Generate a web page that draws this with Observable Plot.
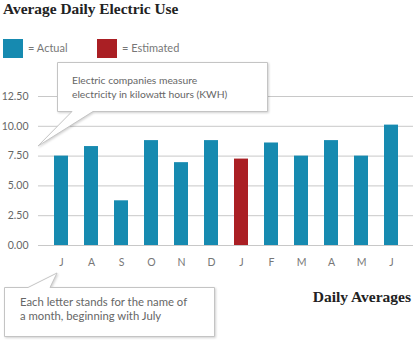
<!DOCTYPE html>
<html><head><meta charset="utf-8">
<script src="https://cdn.jsdelivr.net/npm/d3@7"></script>
<script src="https://cdn.jsdelivr.net/npm/@observablehq/plot@0.6"></script>
<style>
body{margin:0;background:#fff;}
#wrap{position:relative;width:413px;height:340px;overflow:hidden;font-family:Lato,"Open Sans",sans-serif;}
#title{position:absolute;left:3px;top:0px;font:bold 15.4px "Liberation Serif",serif;color:#222;white-space:nowrap;}
.sw{position:absolute;top:39px;width:20px;height:19px;}
.lt{position:absolute;top:41px;font-size:11px;color:#777;white-space:nowrap;}
#chart{position:absolute;left:0;top:80px;}
#over{position:absolute;left:0;top:0;pointer-events:none;}
</style></head>
<body><div id="wrap">
<div id="title">Average Daily Electric Use</div>
<div class="sw" style="left:3px;background:#168ab0"></div><div class="lt" style="left:28px">= Actual</div>
<div class="sw" style="left:97px;background:#aa1f24"></div><div class="lt" style="left:122px">= Estimated</div>
<div id="chart"></div>
<svg id="over" width="413" height="340">
 <g style="filter:drop-shadow(1px 1px 1px rgba(0,0,0,0.18))">
  <path d="M57.5,62.5 H267.5 V111.5 H93 L38,146 L72,111.5 H57.5 Z" fill="#fff" stroke="#c4c4c4"/>
  <path d="M4.5,287.5 H28 L57,273 L50,287.5 H214.5 V336.5 H4.5 Z" fill="#fff" stroke="#c4c4c4"/>
 </g>
 <g font-family="Lato,'Open Sans',sans-serif" fill="#666">
  <text x="72" y="84" font-size="10.3">Electric companies measure</text>
  <text x="72" y="98" font-size="10.3">electricity in kilowatt hours (KWH)</text>
  <text x="20" y="306" font-size="11.3">Each letter stands for the name of</text>
  <text x="20" y="320" font-size="11.3">a month, beginning with July</text>
 </g>
 <text x="411" y="302" text-anchor="end" font-family="'Liberation Serif',serif" font-weight="bold" font-size="15.5" fill="#222">Daily Averages</text>
</svg>
</div>
<script>
const months = ["J","A","S","O","N","D","J","F","M","A","M","J"];
const values = [7.5, 8.3, 3.75, 8.8, 6.95, 8.8, 7.25, 8.6, 7.5, 8.8, 7.5, 10.1];
const types = ["Actual","Actual","Actual","Actual","Actual","Actual","Estimated","Actual","Actual","Actual","Actual","Actual"];
const yTicks = [0, 2.5, 5, 7.5, 10, 12.5];
const colorDomain = ["Actual","Estimated"];
const colorRange = ["#168ab0","#aa1f24"];

const data = months.map((m,i)=>({i, m, v: values[i], t: types[i]}));

const chart = Plot.plot({
  width: 413, height: 200,
  marginLeft: 38, marginRight: 0, marginTop: 16, marginBottom: 35,
  style: {fontFamily: "Lato,'Open Sans',sans-serif", fontSize: "10.5px", color: "#666", background: "transparent"},
  x: {type: "band", domain: d3.range(months.length), paddingInner: 0.54, paddingOuter: 0.46, axis: null},
  y: {domain: [0, 12.5], axis: null},
  color: {domain: colorDomain, range: colorRange},
  marks: [
    Plot.ruleY(yTicks, {stroke: "#c8c8c8", strokeWidth: 1}),
    Plot.axisY({ticks: yTicks, tickSize: 0, tickPadding: 10, tickFormat: d3.format(".2f"), label: null, fill: "#666"}),
    Plot.axisX({tickSize: 0, tickPadding: 13, tickFormat: i => months[i], label: null, fill: "#777"}),
    Plot.barY(data, {x: "i", y: "v", fill: "t"})
  ]
});
document.getElementById("chart").appendChild(chart);
</script>
</body></html>
